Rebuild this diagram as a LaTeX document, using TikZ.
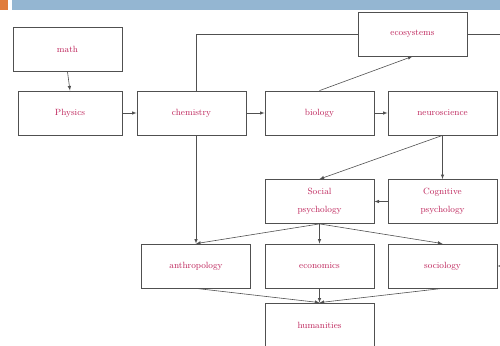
\documentclass[tikz,border=0pt]{standalone}
\usepackage{tikz}
\usepackage{amsmath}
\definecolor{labelred}{RGB}{190,35,90}
\definecolor{barblue}{RGB}{148,182,210}
\definecolor{barorange}{RGB}{224,124,60}
\definecolor{edgegray}{RGB}{80,80,80}

\begin{document}
\begin{tikzpicture}[x=1pt,y=-1pt,>=latex,
  box/.style={draw=edgegray,line width=0.8pt,fill=white,minimum width=109pt,minimum height=44pt,
    inner sep=0pt,text=labelred,font=\small,align=center},
  link/.style={draw=edgegray,line width=0.6pt}]
\useasboundingbox (0,0) rectangle (500,345);
\clip (0,0) rectangle (500,345);
\fill[barorange] (0,0) rectangle (8,10);
\fill[barblue] (12,0) rectangle (500,10);
\node[box] (math) at (67.5,49.5) {math};
\node[box,minimum width=104pt] (phys) at (70,113) {Physics};
\node[box] (chem) at (191.5,113) {chemistry};
\node[box] (bio) at (319.5,113) {biology};
\node[box] (neuro) at (442.5,113) {neuroscience};
\node[box] (eco) at (412.5,34) {ecosystems};
\node[box] (socpsy) at (319.5,201.5) {Social\\[7pt]psychology};
\node[box] (cogpsy) at (442.5,201.5) {Cognitive\\[7pt]psychology};
\node[box] (anthro) at (196,266) {anthropology};
\node[box] (econ) at (319.5,266) {economics};
\node[box] (socio) at (442.5,266) {sociology};
\node[box] (human) at (319.5,325) {humanities};
\coordinate (offpage) at (512,34);
\draw[link,->] (math.south) -- (phys.north);
\draw[link,->] (phys) -- (chem);
\draw[link,->] (chem) -- (bio);
\draw[link,->] (bio) -- (neuro);
\draw[link,->] (bio.north) -- (eco.south);
\draw[link] (eco.west) -| (anthro.north |- chem.north);
\draw[link,->] (anthro.north |- chem.south) -- (anthro.north);
\draw[link,->] (eco.east) -- (offpage) |- (socio.east);
\draw[link,->] (neuro.south) -- (cogpsy.north);
\draw[link,->] (neuro.south) -- (socpsy.north);
\draw[link,->] (cogpsy) -- (socpsy);
\draw[link,->] (socpsy.south) -- (anthro.north);
\draw[link,->] (socpsy.south) -- (econ.north);
\draw[link,->] (socpsy.south) -- (socio.north);
\draw[link,->] (anthro.south) -- (human.north);
\draw[link,->] (econ.south) -- (human.north);
\draw[link,->] (socio.south) -- (human.north);
\end{tikzpicture}
\end{document}
